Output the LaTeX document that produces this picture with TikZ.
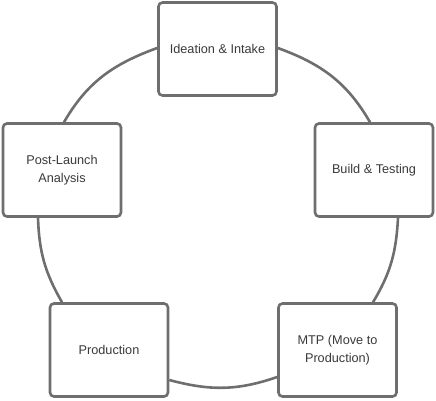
\documentclass[tikz,border=0pt]{standalone}
\usepackage{fontspec}
\setmainfont{Liberation Sans}
\definecolor{edgegrey}{HTML}{6E6E6E}
\definecolor{textgrey}{HTML}{3A3A3A}
\begin{document}
\begin{tikzpicture}[x=1pt,y=-1pt,
  stage/.style={draw=edgegrey, line width=2.6pt, rounded corners=4pt, fill=white,
    minimum width=118pt, minimum height=93pt, inner sep=0pt, align=center,
    text=textgrey, font=\fontsize{12.7}{18}\selectfont},
  link/.style={draw=edgegrey, line width=2.6pt}]
\useasboundingbox (0,0) rectangle (436,400);
\node[stage] (ideation) at (217.5,49) {Ideation \& Intake};
\node[stage] (post) at (62,170) {Post-Launch\\Analysis};
\node[stage] (build) at (374,170) {Build \& Testing};
\node[stage] (prod) at (109,350) {Production};
\node[stage] (mtp) at (337.5,350) {MTP (Move to\\Production)};
\draw[link] ([yshift=1pt]ideation.west) to[out=200,in=60] ([xshift=2pt]post.north);
\draw[link] ([xshift=-24pt]post.south) to[out=272,in=120] ([xshift=-47pt]prod.north);
\draw[link] ([yshift=-30pt]prod.east) to[out=-15,in=199] ([yshift=-27pt]mtp.west);
\draw[link] ([xshift=35.5pt]mtp.north) to[out=59,in=267] ([xshift=24pt]build.south);
\draw[link] ([xshift=-4pt]build.north) to[out=120,in=340] ([yshift=1pt]ideation.east);
\end{tikzpicture}
\end{document}
